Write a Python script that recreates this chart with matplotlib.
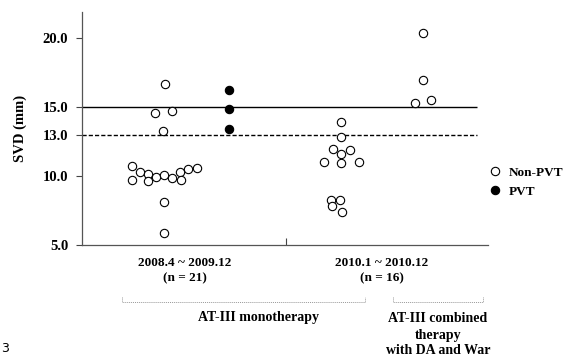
import numpy as np
import matplotlib
matplotlib.use("Agg")
import matplotlib.pyplot as plt
from matplotlib.lines import Line2D

plt.rcParams['font.family'] = ['Liberation Serif', 'DejaVu Serif']
plt.rcParams['font.weight'] = 'bold'

# SVD values (mm), x = position along the axis (0..10)
mono_x = [2.04, 1.80, 2.22, 2.00, 1.22, 1.43, 1.63, 1.82, 2.02, 2.41, 2.62, 2.83,
          1.22, 1.63, 2.22, 2.43, 2.03, 2.03]
mono_y = [16.67, 14.59, 14.70, 13.26, 10.70, 10.29, 10.14, 9.95, 10.09, 10.27, 10.51, 10.56,
          9.69, 9.64, 9.83, 9.73, 8.09, 5.85]
pvt_x = [3.61, 3.61, 3.61]
pvt_y = [16.28, 14.88, 13.38]
p2010_x = [6.39, 6.39, 6.17, 6.60, 6.39, 5.97, 6.39, 6.81, 6.13, 6.35, 6.16, 6.40]
p2010_y = [13.91, 12.80, 12.00, 11.88, 11.57, 11.04, 10.92, 10.99, 8.26, 8.26, 7.85, 7.41]
comb_x = [8.39, 8.39, 8.20, 8.60]
comb_y = [20.38, 16.96, 15.27, 15.51]

y_ticks = [5.0, 10.0, 13.0, 15.0, 20.0]
cutoff_solid = 15.0
cutoff_dash = 13.0
line_end = 9.73
group_split = 5.02

fig = plt.figure(figsize=(5.68, 3.59), dpi=100)
ax = fig.add_axes([0.1444, 0.3175, 0.7148, 0.649])

mk = dict(marker='o', linestyle='none', markersize=6.0, markeredgewidth=0.8, markeredgecolor='black')
ax.plot(mono_x + p2010_x + comb_x, mono_y + p2010_y + comb_y, markerfacecolor='white', label='Non-PVT', **mk)
ax.plot(pvt_x, pvt_y, markerfacecolor='black', label='PVT', **mk)

ax.hlines(cutoff_solid, 0, line_end, color='black', linewidth=1.0, zorder=1)
ax.hlines(cutoff_dash, 0, line_end, color='black', linewidth=1.0, linestyles=(0, (3, 1.5)), zorder=1)

ax.set_xlim(0, 10)
ax.set_ylim(5, 21.9)
ax.set_yticks(y_ticks)
ax.set_yticklabels(['%.1f' % v for v in y_ticks], fontsize=10.5, fontweight='bold')
ax.set_xticks([group_split])
ax.set_xticklabels([])
ax.tick_params(axis='x', direction='in', length=5, width=0.8, color='#444444')
ax.tick_params(axis='y', direction='out', length=4, width=0.8, color='#444444', pad=6)
ax.set_ylabel('SVD (mm)', fontsize=10.5, fontweight='bold', labelpad=11)

for s in ['top', 'right']:
    ax.spines[s].set_visible(False)
for s in ['left', 'bottom']:
    ax.spines[s].set_color('#555555')
    ax.spines[s].set_linewidth(0.9)

ax.legend(loc='center left', bbox_to_anchor=(0.985, 0.27), frameon=False, fontsize=9.5,
          handletextpad=0.5, labelspacing=0.5, handlelength=1.0, borderpad=0)

# period labels
fig.text(185 / 568, 1 - 263 / 359, '2008.4 ~ 2009.12', ha='center', va='center', fontsize=9.5)
fig.text(185 / 568, 1 - 278 / 359, '(n = 21)', ha='center', va='center', fontsize=9.5)
fig.text(382 / 568, 1 - 263 / 359, '2010.1 ~ 2010.12', ha='center', va='center', fontsize=9.5)
fig.text(382 / 568, 1 - 278 / 359, '(n = 16)', ha='center', va='center', fontsize=9.5)

# brackets
by, bt = 1 - 302 / 359, 1 - 297 / 359
for x0, x1 in [(122, 365), (393, 483)]:
    fx0, fx1 = x0 / 568, x1 / 568
    fig.add_artist(Line2D([fx0, fx0, fx1, fx1], [bt, by, by, bt], color='#999999',
                          linewidth=0.7, linestyle=(0, (1, 1))))

fig.text(258 / 568, 1 - 318 / 359, 'AT-III monotherapy', ha='center', va='center', fontsize=10)
fig.text(438 / 568, 1 - 335 / 359, 'AT-III combined\ntherapy\nwith DA and War', ha='center',
         va='center', fontsize=10, linespacing=1.3)

fig.text(0.002, 1 - 349 / 359, '3', ha='left', va='center', fontsize=9, fontweight='normal',
         family='DejaVu Sans')

fig.savefig('out.png', dpi=100)
